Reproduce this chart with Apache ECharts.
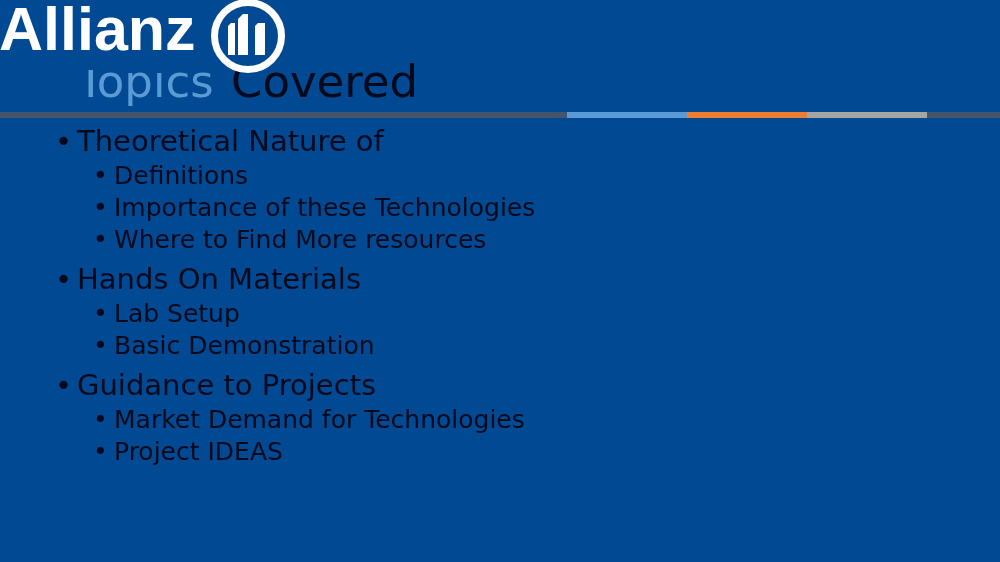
<!DOCTYPE html>
<html>
<head>
<meta charset="utf-8">
<script src="https://cdn.jsdelivr.net/npm/echarts@6/dist/echarts.min.js"></script>
<style>
html,body{margin:0;padding:0;background:#014a93;}
#main{width:1000px;height:562px;}
</style>
</head>
<body>
<div id="main"></div>
<script>
// Slide content
const brandName = 'Allianz';
const titleParts = ['Topics', 'Covered'];
const outlineTexts = [
  'Theoretical Nature of',
  'Definitions',
  'Importance of these Technologies',
  'Where to Find More resources',
  'Hands On Materials',
  'Lab Setup',
  'Basic Demonstration',
  'Guidance to Projects',
  'Market Demand for Technologies',
  'Project IDEAS'
];
const outlineLevels = [1, 2, 2, 2, 1, 2, 2, 1, 2, 2];
const accentColors = ['#44546a', '#5b9bd5', '#ed7d31', '#a5a5a5', '#44546a'];

const BG = '#014a93';
const TEXT = '#04091c';
const FONT = '"DejaVu Sans", sans-serif';

const chart = echarts.init(document.getElementById('main'), null, {renderer: 'canvas'});
const els = [];

// background
els.push({type: 'rect', shape: {x: 0, y: 0, width: 1000, height: 562}, style: {fill: BG}, z: 0});

// title
els.push({type: 'text', x: 77, y: 108, z: 1,
  style: {text: titleParts[0], fill: '#5b9bd5', font: '45px ' + FONT, verticalAlign: 'bottom'}});
els.push({type: 'text', x: 231, y: 108, z: 1,
  style: {text: titleParts[1], fill: TEXT, font: '45px ' + FONT, verticalAlign: 'bottom'}});
// logo box covering top of title
els.push({type: 'rect', shape: {x: 0, y: 0, width: 228, height: 70}, style: {fill: BG}, z: 2});
els.push({
  type: 'text', x: -1, y: 64, z: 3,
  style: {text: brandName, fill: '#ffffff', font: 'bold 61px "Liberation Sans", Arial, sans-serif', verticalAlign: 'bottom'}
});
// logo circle
els.push({type: 'circle', shape: {cx: 248, cy: 36, r: 33.5}, style: {fill: BG, stroke: '#ffffff', lineWidth: 7}, z: 3});
els.push({type: 'polygon', shape: {points: [[228, 26], [231, 23], [235, 23], [235, 55], [228, 55]]}, style: {fill: '#ffffff'}, z: 4});
els.push({type: 'polygon', shape: {points: [[238, 19], [243, 14], [248, 14], [248, 55], [238, 55]]}, style: {fill: '#ffffff'}, z: 4});
els.push({type: 'polygon', shape: {points: [[255, 26], [258, 23], [265, 23], [265, 55], [255, 55]]}, style: {fill: '#ffffff'}, z: 4});

// accent bar
const segX = [0, 567, 687, 807, 927, 1000];
accentColors.forEach((c, i) => {
  els.push({type: 'rect', shape: {x: segX[i], y: 112, width: segX[i + 1] - segX[i], height: 6}, style: {fill: c}, z: 1});
});

// outline
const centers = [142, 176, 208, 240, 280, 314, 346, 386, 420, 452];
outlineTexts.forEach((t, i) => {
  const lvl = outlineLevels[i];
  const size = lvl === 1 ? 29 : 25;
  const bx = lvl === 1 ? 55 : 93;
  const tx = lvl === 1 ? 77 : 114;
  els.push({type: 'text', x: bx, y: centers[i] + 1, z: 1,
    style: {text: '•', fill: TEXT, font: size + 'px ' + FONT, verticalAlign: 'middle'}});
  els.push({type: 'text', x: tx, y: centers[i] + 1, z: 1,
    style: {text: t, fill: TEXT, font: size + 'px ' + FONT, verticalAlign: 'middle'}});
});

chart.setOption({
  backgroundColor: BG,
  animation: false,
  graphic: {elements: els}
});
</script>
</body>
</html>
